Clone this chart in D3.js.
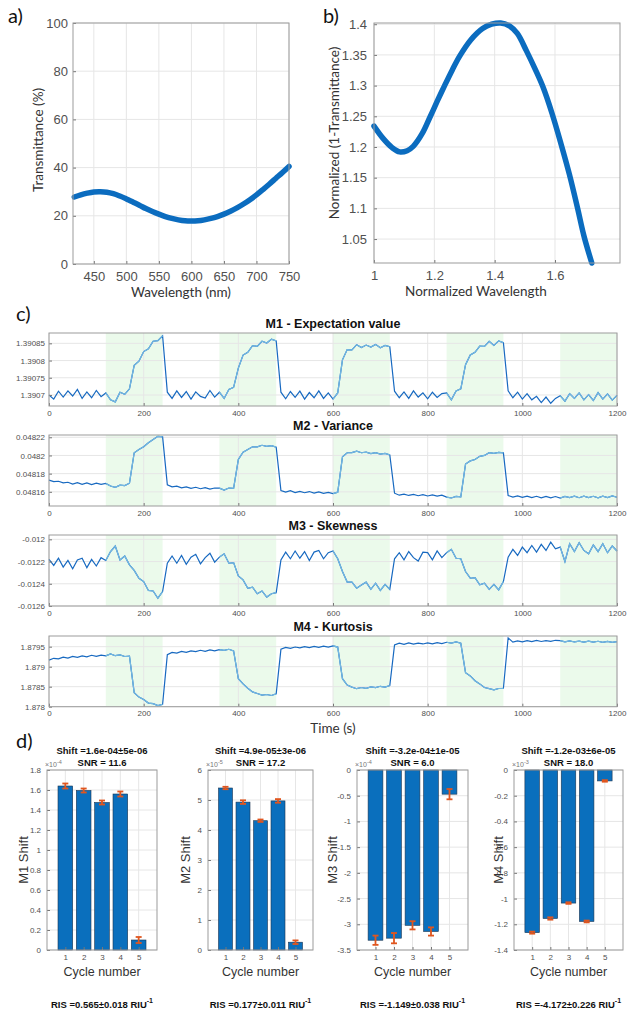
<!DOCTYPE html>
<html>
<head>
<meta charset="utf-8">
<script src="https://d3js.org/d3.v7.min.js"></script>
<style>
body{margin:0;background:#fff}
text{font-family:"Liberation Sans",Arial,sans-serif}
.cal{font-family:Lato,"Open Sans",sans-serif}
</style>
</head>
<body>
<script>
var width = 629, height = 1015
var svg = d3.select("body").append("svg").attr("width",width).attr("height",height)

// ---- a) transmittance spectrum
var aWave = [420,430,440,450,460,470,480,490,500,510,520,530,540,550,560,570,580,590,600,610,620,630,640,650,660,670,680,690,700,710,720,730,740,750]
var aTrans = [27.8,28.7,29.4,29.9,30.0,29.8,29.2,28.2,27.0,25.7,24.4,23.0,21.8,20.7,19.7,18.9,18.3,17.9,17.8,17.9,18.3,18.9,19.7,20.7,21.9,23.3,24.9,26.7,28.7,30.9,33.2,35.6,38.0,40.5]
var aXTicks = [450,500,550,600,650,700,750]
var aYTicks = [0,20,40,60,80,100]

// ---- b) normalized spectrum
var bWave = [1.00,1.03,1.06,1.085,1.11,1.13,1.16,1.185,1.21,1.234,1.26,1.284,1.32,1.36,1.39,1.42,1.45,1.475,1.505,1.535,1.56,1.59,1.62,1.648,1.675,1.696,1.722]
var bAbs = [1.234,1.214,1.199,1.192,1.194,1.201,1.222,1.248,1.275,1.300,1.326,1.348,1.374,1.393,1.400,1.402,1.397,1.385,1.357,1.326,1.298,1.255,1.205,1.155,1.100,1.055,1.011]
var bXTicks = [1,1.2,1.4,1.6]
var bYTicks = [1.05,1.1,1.15,1.2,1.25,1.3,1.35,1.4]

// ---- c) moments vs time, one sample every 10 s
var time = d3.range(0,1201,10)
var sampleWindows = [[120,240],[360,480],[600,720],[840,960],[1080,1200]]
var m1 = [1.390700,1.390688,1.390711,1.390694,1.390712,1.390697,1.390716,1.390690,1.390709,1.390692,1.390713,1.390695,
  1.390706,1.390686,1.390680,1.390708,1.390702,1.390718,
  1.390786,1.390798,1.390826,1.390834,1.390856,1.390858,1.390872,
  1.390708,1.390690,1.390712,1.390693,1.390710,1.390688,1.390709,1.390696,1.390691,1.390713,1.390694,
  1.390708,1.390690,1.390716,1.390722,
  1.390778,1.390816,1.390824,1.390843,1.390841,1.390856,1.390851,1.390862,1.390857,
  1.390708,1.390689,1.390710,1.390693,1.390711,1.390688,1.390707,1.390692,1.390712,1.390690,1.390706,
  1.390688,1.390706,
  1.390802,1.390832,1.390831,1.390846,1.390838,1.390845,1.390839,1.390847,1.390837,1.390844,1.390840,
  1.390711,1.390692,1.390709,1.390690,1.390712,1.390694,1.390706,1.390689,1.390708,1.390693,1.390704,
  1.390706,1.390686,1.390712,1.390718,
  1.390788,1.390816,1.390824,1.390842,1.390841,1.390856,1.390844,1.390857,1.390852,
  1.390712,1.390692,1.390708,1.390688,1.390704,1.390686,1.390696,1.390678,1.390694,1.390676,1.390690,
  1.390698,1.390682,1.390704,1.390690,1.390706,1.390686,1.390701,1.390684,1.390707,1.390688,1.390703,1.390685,1.390699]
var m2 = [0.0481728,0.0481712,0.0481716,0.0481698,0.0481705,0.0481686,0.0481701,0.0481683,0.0481698,0.0481680,0.0481696,0.0481682,
  0.0481692,0.0481664,0.0481650,0.0481674,0.0481668,0.0481695,
  0.0482030,0.0482065,0.0482095,0.0482140,0.0482175,0.0482210,0.0482205,
  0.0481678,0.0481655,0.0481662,0.0481644,0.0481655,0.0481638,0.0481650,0.0481634,0.0481646,0.0481630,0.0481642,
  0.0481640,0.0481620,0.0481642,0.0481638,
  0.0481955,0.0482035,0.0482065,0.0482095,0.0482095,0.0482112,0.0482100,0.0482108,0.0482092,
  0.0481615,0.0481596,0.0481612,0.0481592,0.0481605,0.0481590,0.0481603,0.0481586,0.0481600,0.0481584,0.0481594,
  0.0481580,0.0481596,
  0.0481985,0.0482030,0.0482032,0.0482048,0.0482030,0.0482037,0.0482021,0.0482030,0.0482014,0.0482022,0.0482006,
  0.0481585,0.0481563,0.0481574,0.0481560,0.0481571,0.0481557,0.0481569,0.0481554,0.0481566,0.0481553,0.0481564,
  0.0481542,0.0481532,0.0481550,0.0481545,
  0.0481905,0.0481940,0.0481955,0.0481990,0.0482000,0.0482030,0.0482024,0.0482034,0.0482028,
  0.0481560,0.0481542,0.0481556,0.0481539,0.0481553,0.0481536,0.0481551,0.0481534,0.0481549,0.0481533,0.0481548,
  0.0481532,0.0481550,0.0481536,0.0481552,0.0481535,0.0481553,0.0481537,0.0481551,0.0481534,0.0481552,0.0481536,0.0481554,0.0481540]
var m3 = [-0.012180,-0.012235,-0.012170,-0.012250,-0.012190,-0.012265,-0.012185,-0.012170,-0.012255,-0.012180,-0.012240,-0.012165,
  -0.012190,-0.012110,-0.012060,-0.012185,-0.012150,-0.012230,
  -0.012280,-0.012350,-0.012380,-0.012460,-0.012465,-0.012530,-0.012470,
  -0.012215,-0.012150,-0.012215,-0.012145,-0.012225,-0.012160,-0.012135,-0.012220,-0.012165,-0.012125,-0.012205,
  -0.012160,-0.012130,-0.012215,-0.012210,
  -0.012330,-0.012365,-0.012440,-0.012430,-0.012490,-0.012465,-0.012520,-0.012490,-0.012480,
  -0.012185,-0.012115,-0.012175,-0.012105,-0.012170,-0.012110,-0.012190,-0.012115,-0.012100,-0.012175,-0.012120,
  -0.012105,-0.012175,
  -0.012290,-0.012385,-0.012385,-0.012440,-0.012410,-0.012385,-0.012450,-0.012395,-0.012460,-0.012405,-0.012450,
  -0.012175,-0.012120,-0.012185,-0.012110,-0.012165,-0.012195,-0.012115,-0.012120,-0.012185,-0.012105,-0.012165,
  -0.012120,-0.012090,-0.012170,-0.012175,
  -0.012290,-0.012350,-0.012345,-0.012410,-0.012395,-0.012450,-0.012405,-0.012455,-0.012380,
  -0.012160,-0.012090,-0.012145,-0.012070,-0.012120,-0.012055,-0.012115,-0.012045,-0.012100,-0.012025,-0.012085,
  -0.012070,-0.012200,-0.012040,-0.012110,-0.012030,-0.012100,-0.012130,-0.012050,-0.012110,-0.012040,-0.012120,-0.012060,-0.012105]
var m4 = [1.879165,1.879210,1.879195,1.879240,1.879215,1.879255,1.879235,1.879270,1.879245,1.879285,1.879260,1.879290,
  1.879270,1.879320,1.879275,1.879295,1.879255,1.879265,
  1.878350,1.878240,1.878180,1.878090,1.878075,1.878030,1.878060,
  1.879300,1.879355,1.879340,1.879380,1.879360,1.879395,1.879375,1.879410,1.879385,1.879418,1.879395,
  1.879425,1.879410,1.879435,1.879395,
  1.878700,1.878570,1.878460,1.878370,1.878330,1.878290,1.878305,1.878280,1.878320,
  1.879440,1.879480,1.879460,1.879492,1.879470,1.879500,1.879478,1.879505,1.879485,1.879512,1.879490,
  1.879520,1.879490,
  1.878700,1.878540,1.878490,1.878450,1.878480,1.878460,1.878495,1.878475,1.878510,1.878490,1.878530,
  1.879545,1.879590,1.879560,1.879595,1.879565,1.879590,1.879568,1.879595,1.879570,1.879600,1.879575,
  1.879610,1.879590,1.879620,1.879585,
  1.878850,1.878770,1.878650,1.878570,1.878480,1.878450,1.878420,1.878455,1.878460,
  1.879720,1.879615,1.879645,1.879620,1.879650,1.879625,1.879655,1.879630,1.879650,1.879635,1.879660,
  1.879650,1.879620,1.879645,1.879618,1.879640,1.879615,1.879638,1.879612,1.879635,1.879610,1.879632,1.879608,1.879628]
var cTitles = ["M1 - Expectation value","M2 - Variance","M3 - Skewness","M4 - Kurtosis"]
var cTimeTicks = [0,200,400,600,800,1000,1200]
var cYTicks = [[1.3907,1.39075,1.3908,1.39085],[0.04816,0.04818,0.0482,0.04822],[-0.0126,-0.0124,-0.0122,-0.012],[1.878,1.8785,1.879,1.8795]]
var cYDomains = [[1.390668,1.39088],[0.0481444,0.0482225],[-0.0126,-0.011961],[1.878,1.879767]]

// ---- d) shifts per cycle
var cycles = [1,2,3,4,5]
var d1Shift = [1.64,1.595,1.475,1.56,0.10], d1Err = [0.025,0.02,0.02,0.025,0.03]
var d2Shift = [5.40,4.93,4.31,4.97,0.26], d2Err = [0.04,0.06,0.04,0.06,0.06]
var d3Shift = [-3.31,-3.27,-3.02,-3.14,-0.47], d3Err = [0.09,0.10,0.08,0.08,0.10]
var d4Shift = [-1.265,-1.155,-1.035,-1.178,-0.085], d4Err = [0.008,0.009,0.006,0.007,0.006]
var dYTicks = [[0,0.2,0.4,0.6,0.8,1,1.2,1.4,1.6,1.8],[0,1,2,3,4,5,6],[-3.5,-3,-2.5,-2,-1.5,-1,-0.5,0],[-1.4,-1.2,-1,-0.8,-0.6,-0.4,-0.2,0]]
var dYDomains = [[0,1.8],[0,6],[-3.5,0],[-1.4,0]]
var dExp = ["-4","-5","-4","-3"]
var dLabels = ["M1 Shift","M2 Shift","M3 Shift","M4 Shift"]
var dShiftText = ["Shift =1.6e-04\u00b15e-06","Shift =4.9e-05\u00b13e-06","Shift =-3.2e-04\u00b11e-05","Shift =-1.2e-03\u00b16e-05"]
var dSnr = ["SNR = 11.6","SNR = 17.2","SNR = 6.0","SNR = 18.0"]
var dRis = ["RIS =0.565\u00b10.018 RIU","RIS =0.177\u00b10.011 RIU","RIS =-1.149\u00b10.038 RIU","RIS =-4.172\u00b10.226 RIU"]

var blue = "#0b6cbf", gridCol = "#e6e6e6", frameCol = "#9b9b9b", tickCol = "#505050"

function drawGrid(x, y, xTicks, yTicks) {
  var g = svg.append("g")
  g.selectAll("line.gx").data(xTicks).join("line").attr("class","gx")
    .attr("x1",x).attr("x2",x).attr("y1",y.range()[0]).attr("y2",y.range()[1])
    .attr("stroke",gridCol)
  g.selectAll("line.gy").data(yTicks).join("line").attr("class","gy")
    .attr("y1",y).attr("y2",y).attr("x1",x.range()[0]).attr("x2",x.range()[1])
    .attr("stroke",gridCol)
}

function drawAxes(x, y, xTicks, yTicks, xFmt, yFmt, fs, padX, padY) {
  var bottom = d3.max(y.range()), top = d3.min(y.range())
  var gx = svg.append("g").attr("transform","translate(0,"+bottom+")")
    .call(d3.axisBottom(x).tickValues(xTicks).tickFormat(xFmt).tickSize(-3).tickPadding(padX))
  var gy = svg.append("g").attr("transform","translate("+x.range()[0]+",0)")
    .call(d3.axisLeft(y).tickValues(yTicks).tickFormat(yFmt).tickSize(-3).tickPadding(padY))
  ;[gx,gy].forEach(function(g){
    g.select(".domain").remove()
    g.attr("font-family",null).attr("font-size",null)
    g.selectAll("line").attr("stroke","#777")
    g.selectAll("text").attr("font-size",fs).attr("fill",tickCol)
  })
  svg.append("rect").attr("x",x.range()[0]).attr("y",top)
    .attr("width",x.range()[1]-x.range()[0]).attr("height",bottom-top)
    .attr("fill","none").attr("stroke",frameCol)
}

function label(txt, x, y, fs, opts) {
  opts = opts || {}
  var t = svg.append("text").attr("x",x).attr("y",y).attr("font-size",fs)
    .attr("text-anchor",opts.anchor || "middle").attr("dominant-baseline","central")
    .attr("fill",opts.fill || "#333").text(txt)
  if (opts.rotate) t.attr("transform","rotate(-90,"+x+","+y+")")
  if (opts.bold) t.attr("font-weight","bold")
  if (opts.cls) t.attr("class",opts.cls)
  return t
}

// ---------- panel a
var ax = d3.scaleLinear().domain([418,750]).range([73,289])
var ay = d3.scaleLinear().domain([0,100]).range([264,23])
drawGrid(ax, ay, aXTicks, aYTicks)
svg.append("path").datum(d3.zip(aWave,aTrans))
  .attr("d", d3.line().x(function(d){return ax(d[0])}).y(function(d){return ay(d[1])}).curve(d3.curveCatmullRom))
  .attr("fill","none").attr("stroke",blue).attr("stroke-width",5.5).attr("stroke-linecap","round")
drawAxes(ax, ay, aXTicks, aYTicks, d3.format("d"), d3.format("d"), 13, 8, 5)
label("Transmittance (%)", 38, 140, 13.5, {rotate:true, cls:"cal"})
label("Wavelength (nm)", 181, 292, 13.5, {cls:"cal"})
label("a)", 8, 15, 20, {anchor:"start", cls:"cal", fill:"#111"})

// ---------- panel b
var bx = d3.scaleLinear().domain([1,1.8155]).range([374,620])
var by = d3.scaleLinear().domain([1.011,1.402]).range([263,23])
drawGrid(bx, by, bXTicks, bYTicks)
svg.append("path").datum(d3.zip(bWave,bAbs))
  .attr("d", d3.line().x(function(d){return bx(d[0])}).y(function(d){return by(d[1])}).curve(d3.curveCatmullRom))
  .attr("fill","none").attr("stroke",blue).attr("stroke-width",5.5).attr("stroke-linecap","round")
drawAxes(bx, by, bXTicks, bYTicks, function(d){return String(d)}, function(d){return String(d)}, 13, 8, 7)
label("Normalized (1-Transmittance)", 334, 133, 13.5, {rotate:true, cls:"cal"})
label("Normalized Wavelength", 476, 291, 13.5, {cls:"cal"})
label("b)", 323, 15, 20, {anchor:"start", cls:"cal", fill:"#111"})

// ---------- panel c
label("c)", 16, 313, 20, {anchor:"start", cls:"cal", fill:"#111"})
var cSeries = [m1, m2, m3, m4]
var cTops = [333, 435, 535, 636], cBottoms = [406, 506, 606, 706.7]
var tx = d3.scaleLinear().domain([0,1200]).range([49,617])
cSeries.forEach(function(vals, i) {
  var y = d3.scaleLinear().domain(cYDomains[i]).range([cBottoms[i], cTops[i]])
  svg.append("g").selectAll("rect").data(sampleWindows).join("rect")
    .attr("x",function(w){return tx(w[0])}).attr("width",function(w){return tx(w[1])-tx(w[0])})
    .attr("y",cTops[i]).attr("height",cBottoms[i]-cTops[i]).attr("fill","#ebfaeb")
  drawGrid(tx, y, cTimeTicks, cYTicks[i])
  var pts = d3.zip(time, vals)
  var line = d3.line().x(function(d){return tx(d[0])}).y(function(d){return y(d[1])})
  svg.append("path").datum(pts).attr("d",line)
    .attr("fill","none").attr("stroke","#1769c0").attr("stroke-width",1.2)
  sampleWindows.forEach(function(w){
    svg.append("path").datum(pts.filter(function(p){return p[0]>=w[0] && p[0]<=w[1]})).attr("d",line)
      .attr("fill","none").attr("stroke","#74b8e2").attr("stroke-width",1.2)
  })
  drawAxes(tx, y, cTimeTicks, cYTicks[i], d3.format("d"), function(d){return String(+d.toPrecision(6))}, 8, 4, 4)
  label(cTitles[i], 333, cTops[i]-9.5, 12.5, {bold:true, fill:"#111"})
})
label("Time (s)", 333, 728, 13.5, {cls:"cal"})

// ---------- panel d
label("d)", 16, 740, 20, {anchor:"start", cls:"cal", fill:"#111"})
var dShifts = [d1Shift, d2Shift, d3Shift, d4Shift], dErrs = [d1Err, d2Err, d3Err, d4Err]
var dLefts = [47, 208, 357, 514], dRights = [157, 313, 468, 623]
var dLabelX = [23, 185, 332, 498]
dShifts.forEach(function(vals, i) {
  var x = d3.scaleLinear().domain([0,6]).range([dLefts[i], dRights[i]])
  var y = d3.scaleLinear().domain(dYDomains[i]).range([950, 770])
  var bw = x(0.8) - x(0)
  drawGrid(x, y, cycles, dYTicks[i])
  svg.append("g").selectAll("rect").data(vals).join("rect")
    .attr("x",function(d,j){return x(cycles[j])-bw/2}).attr("width",bw)
    .attr("y",function(d){return y(Math.max(d,0))})
    .attr("height",function(d){return Math.abs(y(d)-y(0))})
    .attr("fill","#0a6fbd").attr("stroke","#1d3550").attr("stroke-width",0.6)
  var eg = svg.append("g").attr("stroke","#e0561f").attr("stroke-width",1.8)
  vals.forEach(function(d,j){
    var cx = x(cycles[j]), e = dErrs[i][j]
    eg.append("line").attr("x1",cx).attr("x2",cx).attr("y1",y(d-e)).attr("y2",y(d+e))
    eg.append("line").attr("x1",cx-3).attr("x2",cx+3).attr("y1",y(d-e)).attr("y2",y(d-e))
    eg.append("line").attr("x1",cx-3).attr("x2",cx+3).attr("y1",y(d+e)).attr("y2",y(d+e))
  })
  drawAxes(x, y, cycles, dYTicks[i], d3.format("d"), function(d){return String(d)}, 8, 4, 6)
  var cx = (dLefts[i]+dRights[i])/2
  var ex = svg.append("text").attr("x",dLefts[i]-2).attr("y",767).attr("font-size",7).attr("fill","#777")
  ex.append("tspan").text("\u00d710")
  ex.append("tspan").attr("dy",-3).attr("font-size",5.5).text(dExp[i])
  label(dShiftText[i], cx, 750, 9.5, {bold:true, fill:"#111"})
  label(dSnr[i], cx, 762, 9.5, {bold:true, fill:"#111"})
  label(dLabels[i], dLabelX[i], 860, 13, {rotate:true})
  label("Cycle number", cx, 972, 12.5)
  var r = svg.append("text").attr("x",cx).attr("y",1004).attr("font-size",9.5).attr("font-weight","bold")
    .attr("text-anchor","middle").attr("dominant-baseline","central").attr("fill","#111")
  r.append("tspan").text(dRis[i])
  r.append("tspan").attr("dy",-4).attr("font-size",7).text("-1")
})
</script>
</body>
</html>
